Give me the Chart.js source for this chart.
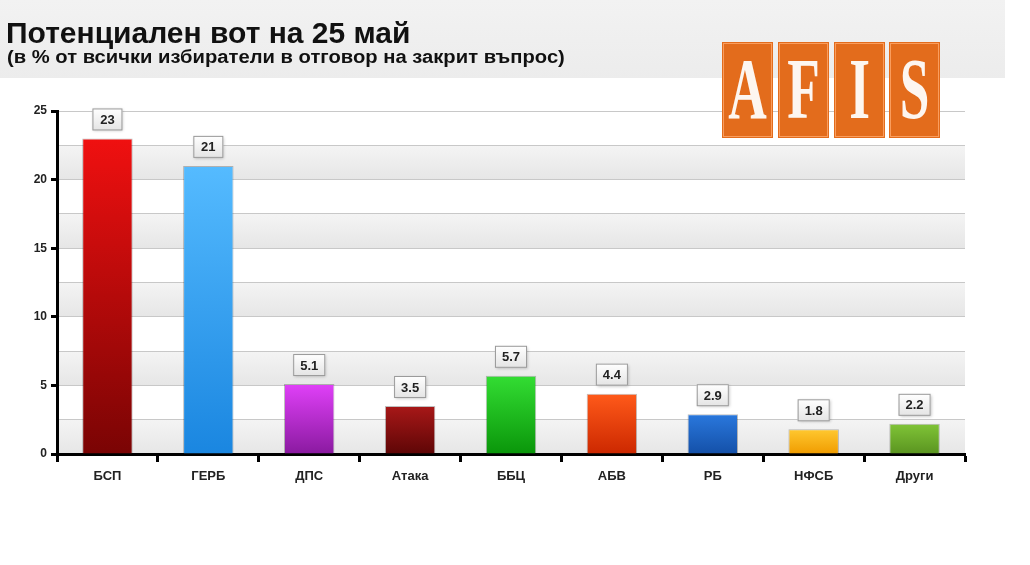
<!DOCTYPE html>
<html>
<head>
<meta charset="utf-8">
<script src="https://cdn.jsdelivr.net/npm/chart.js@4.4.0/dist/chart.umd.min.js"></script>
<style>
  html, body { margin: 0; padding: 0; background: #fff; }
  #wrap { width: 1030px; height: 565px; }
</style>
</head>
<body>
<div id="wrap"><canvas id="c" width="1030" height="565"></canvas></div>
<script>
const parties = ['БСП', 'ГЕРБ', 'ДПС', 'Атака', 'ББЦ', 'АБВ', 'РБ', 'НФСБ', 'Други'];
const votes = [23, 21, 5.1, 3.5, 5.7, 4.4, 2.9, 1.8, 2.2];
const topColors = ['#f01010', '#55bbff', '#e040f8', '#a81818', '#33dd33', '#ff5a1a', '#2a78dd', '#ffc830', '#80c437'];
const bottomColors = ['#7a0404', '#1a86e0', '#8a1aa0', '#5e0606', '#0a960a', '#cc2800', '#1450a8', '#f09c00', '#5a9420'];
const titleText = 'Потенциален вот на 25 май';
const subtitleText = '(в % от всички избиратели в отговор на закрит въпрос)';

const FONT = '"Liberation Sans", Arial, sans-serif';

function barGradient(context) {
  const chart = context.chart;
  const area = chart.chartArea;
  if (!area) return topColors[context.dataIndex];
  const y = chart.scales.y;
  const top = y.getPixelForValue(votes[context.dataIndex]);
  const g = chart.ctx.createLinearGradient(0, top, 0, area.bottom);
  g.addColorStop(0, topColors[context.dataIndex]);
  g.addColorStop(1, bottomColors[context.dataIndex]);
  return g;
}

const decor = {
  id: 'decor',
  beforeDraw: (chart) => {
    const ctx = chart.ctx;
    const area = chart.chartArea;
    const y = chart.scales.y;
    ctx.save();
    ctx.fillStyle = '#fff';
    ctx.fillRect(0, 0, chart.width, chart.height);
    // header band
    const hg = ctx.createLinearGradient(0, 0, 0, 80);
    hg.addColorStop(0, '#f2f2f2');
    hg.addColorStop(1, '#ececec');
    ctx.fillStyle = hg;
    ctx.fillRect(0, 0, 1005, 78);
    // alternating bands
    for (let v = 0; v < 25; v += 5) {
      const y0 = y.getPixelForValue(v);
      const y1 = y.getPixelForValue(v + 2.5);
      const bg = ctx.createLinearGradient(0, y1, 0, y0);
      bg.addColorStop(0, '#f4f4f4');
      bg.addColorStop(1, '#e6e6e6');
      ctx.fillStyle = bg;
      ctx.fillRect(area.left, y1, area.right - area.left, y0 - y1);
    }
    // title
    ctx.fillStyle = '#111';
    ctx.textBaseline = 'alphabetic';
    ctx.font = 'bold 30px ' + FONT;
    ctx.fillText(titleText, 6, 43);
    ctx.font = 'bold 20px ' + FONT;
    ctx.save();
    ctx.translate(7, 63);
    ctx.scale(1.01, 0.9);
    ctx.fillText(subtitleText, 0, 0);
    ctx.restore();
    ctx.restore();
  },
  afterDraw: (chart) => {
    const ctx = chart.ctx;
    const meta = chart.getDatasetMeta(0);
    ctx.save();
    // value boxes
    ctx.font = 'bold 13px ' + FONT;
    ctx.textAlign = 'center';
    ctx.textBaseline = 'middle';
    meta.data.forEach(function(bar, i) {
      const txt = String(votes[i]);
      const w = Math.max(30, ctx.measureText(txt).width + 14);
      const h = 22;
      const x = bar.x - w / 2;
      const yb = bar.y - 8 - h;
      ctx.shadowColor = 'rgba(0,0,0,0.25)';
      ctx.shadowBlur = 3;
      ctx.shadowOffsetX = 1;
      ctx.shadowOffsetY = 1;
      const g = ctx.createLinearGradient(0, yb, 0, yb + h);
      g.addColorStop(0, '#ffffff');
      g.addColorStop(1, '#e4e4e4');
      ctx.fillStyle = g;
      ctx.fillRect(x, yb, w, h);
      ctx.shadowColor = 'transparent';
      ctx.strokeStyle = '#9a9a9a';
      ctx.lineWidth = 1;
      ctx.strokeRect(x + 0.5, yb + 0.5, w - 1, h - 1);
      ctx.fillStyle = '#222';
      ctx.fillText(txt, bar.x, yb + h / 2 + 1);
    });
    // AFIS logo
    const letters = ['A', 'F', 'I', 'S'];
    const boxX = [722, 778, 834, 889];
    ctx.font = 'bold 86px "Liberation Serif", "DejaVu Serif", serif';
    ctx.textBaseline = 'alphabetic';
    letters.forEach(function(l, i) {
      ctx.fillStyle = '#e36c1c';
      ctx.fillRect(boxX[i], 42, 51, 96);
      ctx.strokeStyle = 'rgba(255,170,110,0.8)';
      ctx.lineWidth = 1;
      ctx.strokeRect(boxX[i] + 1.5, 43.5, 48, 93);
      ctx.save();
      ctx.translate(boxX[i] + 25.5, 118);
      ctx.scale(0.62, 1);
      ctx.fillStyle = '#fdf6f0';
      ctx.fillText(l, 0, 0);
      ctx.restore();
    });
    ctx.restore();
  }
};

const barChart = {
  type: 'bar',
  plugins: [decor],
  data: {
    labels: parties,
    datasets: [{
      data: votes,
      backgroundColor: barGradient,
      borderColor: 'rgba(0,0,0,0.25)',
      borderWidth: 1,
      categoryPercentage: 1,
      barPercentage: 0.5,
    }],
  },
  options: {
    responsive: false,
    animation: false,
    devicePixelRatio: 1,
    layout: { padding: { left: 0, top: 111, right: 65, bottom: 0 } },
    plugins: {
      legend: { display: false },
      tooltip: { enabled: false },
    },
    scales: {
      x: {
        afterFit: (s) => { s.height = 111; },
        border: { color: '#000', width: 3 },
        grid: {
          display: true,
          drawOnChartArea: false,
          tickLength: 8,
          tickWidth: 3,
          tickColor: '#000',
        },
        ticks: {
          color: '#222',
          padding: 7,
          font: { family: FONT, size: 13, weight: 'bold' },
        },
      },
      y: {
        min: 0,
        max: 25,
        afterFit: (s) => { s.width = 57; },
        border: { color: '#000', width: 3 },
        grid: {
          color: '#c8c8c8',
          lineWidth: 1,
          tickLength: 6,
          tickWidth: 3,
          tickColor: (ctx) => (ctx.tick && ctx.tick.value % 5 === 0 ? '#000' : 'rgba(0,0,0,0)'),
        },
        ticks: {
          stepSize: 2.5,
          color: '#222',
          padding: 4,
          font: { family: FONT, size: 12, weight: 'bold' },
          callback: (v) => (v % 5 === 0 ? v : ''),
        },
      },
    },
  },
};

new Chart(document.getElementById('c').getContext('2d'), barChart);
</script>
</body>
</html>
